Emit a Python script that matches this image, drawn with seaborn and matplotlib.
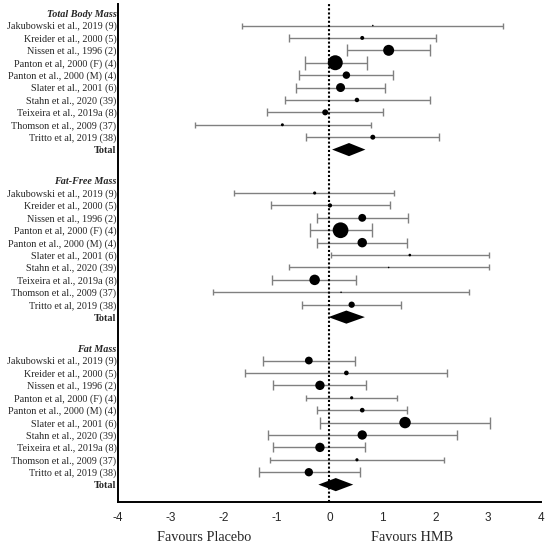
import numpy as np
import pandas as pd
import matplotlib
matplotlib.use("Agg")
import matplotlib.pyplot as plt
import seaborn as sns

# study labels (same for all three outcomes)
studies = [
    "Jakubowski et al., 2019 (9)",
    "Kreider et al., 2000 (5)",
    "Nissen et al., 1996 (2)",
    "Panton et al, 2000 (F) (4)",
    "Panton et al., 2000 (M) (4)",
    "Slater et al., 2001 (6)",
    "Stahn et al., 2020 (39)",
    "Teixeira et al., 2019a (8)",
    "Thomson et al., 2009 (37)",
    "Tritto et al, 2019 (38)",
]
outcomes = ["Total Body Mass", "Fat-Free Mass", "Fat Mass"]

# effect sizes (SMD) with 95% CI and weights (%)
tbm_est = [0.82, 0.62, 1.12, 0.11, 0.32, 0.21, 0.52, -0.08, -0.89, 0.82]
tbm_lo = [-1.65, -0.77, 0.33, -0.47, -0.57, -0.63, -0.85, -1.19, -2.54, -0.44]
tbm_hi = [3.28, 2.01, 1.91, 0.71, 1.20, 1.06, 1.90, 1.02, 0.78, 2.07]
tbm_w = [0.4, 2.7, 20.5, 38.1, 9.5, 13.7, 3.4, 6.1, 1.5, 4.2]
tbm_total = [0.05, 0.37, 0.68]

ffm_est = [-0.28, 0.01, 0.62, 0.21, 0.62, 1.52, 1.12, -0.28, 0.22, 0.42]
ffm_lo = [-1.80, -1.11, -0.23, -0.37, -0.23, 0.02, -0.76, -1.08, -2.20, -0.51]
ffm_hi = [1.22, 1.14, 1.48, 0.81, 1.47, 3.02, 3.01, 0.51, 2.64, 1.35]
ffm_w = [1.7, 3.0, 10.5, 42.1, 15.2, 1.2, 0.4, 18.7, 0.4, 6.7]
ffm_total = [-0.02, 0.32, 0.67]

fm_est = [-0.39, 0.32, -0.18, 0.42, 0.62, 1.43, 0.62, -0.18, 0.52, -0.39]
fm_lo = [-1.26, -1.59, -1.07, -0.44, -0.23, -0.18, -1.17, -1.06, -1.13, -1.34]
fm_hi = [0.48, 2.22, 0.70, 1.28, 1.47, 3.03, 2.41, 0.68, 2.17, 0.57]
fm_w = [10.3, 3.7, 14.9, 1.7, 3.7, 22.3, 14.9, 14.9, 1.7, 11.8]
fm_total = [-0.21, 0.12, 0.45]

x_ticks = [-4, -3, -2, -1, 0, 1, 2, 3, 4]

groups = [
    (tbm_est, tbm_lo, tbm_hi, tbm_w, tbm_total),
    (ffm_est, ffm_lo, ffm_hi, ffm_w, ffm_total),
    (fm_est, fm_lo, fm_hi, fm_w, fm_total),
]

# build long table
rows = []
yticks, ylabels, ystyles = [], [], []
totals = []
for g, (name, (est, lo, hi, w, tot)) in enumerate(zip(outcomes, groups)):
    base = g * 13.5
    yticks.append(base)
    ylabels.append(name)
    ystyles.append("header")
    for i, s in enumerate(studies):
        y = base + 1 + i
        rows.append(dict(outcome=name, study=s, y=y, est=est[i], lo=lo[i], hi=hi[i], weight=w[i]))
        yticks.append(y)
        ylabels.append(s)
        ystyles.append("study")
    yticks.append(base + 11)
    ylabels.append("Total")
    ystyles.append("total")
    totals.append((base + 11, tot))
df = pd.DataFrame(rows)

sns.set_theme(style="white")
plt.rcParams["font.family"] = ["Liberation Serif", "DejaVu Serif"]

fig = plt.figure(figsize=(5.5, 5.46), dpi=100)
ax = fig.add_axes([0.2145, 0.0806, 0.769, 0.912])

wmax = df["weight"].max()
for _, r in df.iterrows():
    cap = 1.8 + 3.2 * np.sqrt(r["weight"] / wmax)
    ax.errorbar(r["est"], r["y"], xerr=[[r["est"] - r["lo"]], [r["hi"] - r["est"]]],
                fmt="none", ecolor="#808080", elinewidth=1.0, capsize=cap,
                capthick=1.0, zorder=2)

sns.scatterplot(data=df, x="est", y="y", size="weight", sizes=(0, 3.05 * wmax),
                size_norm=(0, wmax), color="black", edgecolor="none",
                legend=False, ax=ax, zorder=4)

# pooled estimates as diamonds
for y, (lo, mid, hi) in totals:
    ax.fill([lo, mid, hi, mid], [y, y - 0.53, y, y + 0.53], color="black",
            lw=0, zorder=5)

ax.axvline(0, color="black", ls=(0, (1.0, 1.0)), lw=1.5, zorder=3)

ax.set_xlim(-4, 4)
ax.set_ylim(39.4, -0.73)
ax.set_xticks(x_ticks)
ax.set_xticklabels([str(t) for t in x_ticks], family="Liberation Sans", fontsize=8.5)
ax.set_yticks(yticks)
ax.set_yticklabels(ylabels, fontsize=7.3)
for lab, st in zip(ax.get_yticklabels(), ystyles):
    if st == "header":
        lab.set_fontweight("bold")
        lab.set_fontstyle("italic")
    elif st == "total":
        lab.set_fontweight("bold")
ax.tick_params(axis="both", length=0)
ax.tick_params(axis="y", pad=1)
ax.tick_params(axis="x", pad=7)
ax.set_xlabel("")
ax.set_ylabel("")

for side in ["top", "right"]:
    ax.spines[side].set_visible(False)
for side in ["left", "bottom"]:
    ax.spines[side].set_color("black")
    ax.spines[side].set_linewidth(1.4)

ax.text(-2.37, -0.072, "Favours Placebo", transform=ax.get_xaxis_transform(),
        ha="center", va="center", fontsize=10.3)
ax.text(1.57, -0.072, "Favours HMB", transform=ax.get_xaxis_transform(),
        ha="center", va="center", fontsize=10.3)

fig.savefig("out.png", dpi=100)
